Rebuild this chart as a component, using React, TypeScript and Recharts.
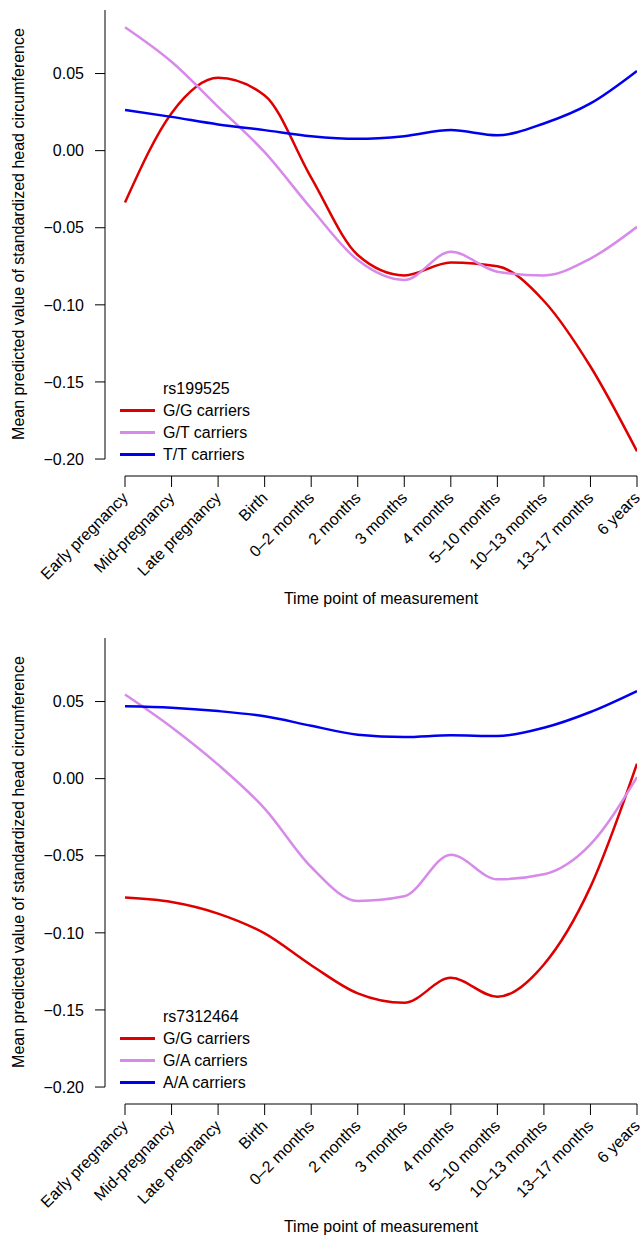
import { LineChart, Line, XAxis, YAxis, ReferenceLine } from 'recharts';

const FONT = "'Liberation Sans', Arial, Helvetica, sans-serif";
const RED = '#DE0000';
const VIOLET = '#D78AE9';
const BLUE = '#0000EE';

const timepoints = [
  'Early pregnancy', 'Mid-pregnancy', 'Late pregnancy', 'Birth', '0–2 months', '2 months',
  '3 months', '4 months', '5–10 months', '10–13 months', '13–17 months', '6 years',
];
const xTicks = timepoints.map((_, i) => i);
const yTicks = [0.05, 0, -0.05, -0.1, -0.15, -0.2];

// rs199525
const rs199525GG = [-0.0336, 0.0243, 0.0472, 0.0358, -0.0175, -0.0677, -0.0809, -0.0725, -0.075, -0.0975, -0.14, -0.195];
const rs199525GT = [0.08, 0.0576, 0.0284, -0.001, -0.0375, -0.071, -0.0839, -0.0656, -0.0785, -0.0809, -0.07, -0.0494];
const rs199525TT = [0.0264, 0.0219, 0.017, 0.0133, 0.0094, 0.0077, 0.0094, 0.0133, 0.01, 0.0176, 0.0306, 0.0517];

// rs7312464
const rs7312464GG = [-0.0771, -0.08, -0.0875, -0.1004, -0.121, -0.1393, -0.1454, -0.1292, -0.1415, -0.1205, -0.0702, 0.0097];
const rs7312464GA = [0.0546, 0.0334, 0.0091, -0.0194, -0.0573, -0.0793, -0.0763, -0.0493, -0.0653, -0.062, -0.0426, 0.001];
const rs7312464AA = [0.0469, 0.046, 0.0438, 0.0404, 0.0343, 0.0285, 0.027, 0.0281, 0.0276, 0.033, 0.0432, 0.0568];

// axis extents (R-style detached axes)
const X_MIN = -0.43;
const X_MAX = 11;
const Y_MAX = 0.0912;
const Y_MIN = -0.211;
const Y_AXIS_END = -0.2;

interface Series { name: string; color: string; values: number[] }

const fmtY = (v: number) => v.toFixed(2).replace('-', '\u2212');

function TimeTick(props: any) {
  const { x, y, payload } = props;
  const ty = y + 6;
  return (
    <text
      x={x} y={ty}
      transform={`rotate(-45, ${x}, ${ty})`}
      textAnchor="end" dominantBaseline="central"
      fontSize={16} fontFamily={FONT} fill="#000"
    >
      {timepoints[payload.value]}
    </text>
  );
}

const YTitle = () => (
  <text x={24} y={234} transform="rotate(-90, 24, 234)" textAnchor="middle" fontSize={16} fontFamily={FONT} fill="#000">
    Mean predicted value of standardized head circumference
  </text>
);

const XTitle = () => (
  <text x={381} y={604} textAnchor="middle" fontSize={16} fontFamily={FONT} fill="#000">
    Time point of measurement
  </text>
);

function GenotypeLegend({ title, series }: { title: string; series: Series[] }) {
  return (
    <div style={{ position: 'absolute', left: 120, top: 377.5, fontFamily: FONT, fontSize: 16, lineHeight: '22px', color: '#000' }}>
      <div style={{ paddingLeft: 43 }}>{title}</div>
      {series.map(s => (
        <div key={s.name} style={{ display: 'flex', alignItems: 'center' }}>
          <span style={{ display: 'inline-block', width: 35, height: 2.5, background: s.color, marginRight: 8 }} />
          <span>{s.name}</span>
        </div>
      ))}
    </div>
  );
}

function TrajectoryChart({ title, series }: { title: string; series: Series[] }) {
  const rows = timepoints.map((_, i) => {
    const row: Record<string, number> = { i };
    series.forEach(s => { row[s.name] = s.values[i]; });
    return row;
  });

  return (
    <div style={{ position: 'relative', width: 641, height: 628 }}>
      <LineChart width={641} height={628} data={rows} margin={{ top: 10, right: 4, bottom: 0, left: 0 }}>
        <XAxis
          dataKey="i" type="number" domain={[X_MIN, X_MAX]} ticks={xTicks} interval={0}
          allowDataOverflow axisLine={false} tickLine={{ stroke: '#000' }} tickSize={11}
          height={152} tick={<TimeTick />} label={<XTitle />}
        />
        <YAxis
          type="number" domain={[Y_MIN, Y_MAX]} ticks={yTicks} interval={0} allowDataOverflow
          width={105} axisLine={false} tickLine={{ stroke: '#000' }} tickSize={10} tickMargin={11}
          tickFormatter={fmtY} tick={{ fontSize: 16, fill: '#000', fontFamily: FONT }}
          label={<YTitle />}
        />
        <ReferenceLine segment={[{ x: X_MIN, y: Y_AXIS_END }, { x: X_MIN, y: Y_MAX }]} stroke="#000" ifOverflow="visible" />
        <ReferenceLine segment={[{ x: 0, y: Y_MIN }, { x: X_MAX, y: Y_MIN }]} stroke="#000" ifOverflow="visible" />
        {series.map(s => (
          <Line
            key={s.name} dataKey={s.name} type="monotone" stroke={s.color}
            strokeWidth={2.5} dot={false} activeDot={false} isAnimationActive={false}
          />
        ))}
      </LineChart>
      <GenotypeLegend title={title} series={series} />
    </div>
  );
}

export default function App() {
  return (
    <div style={{ position: 'absolute', top: 0, left: 0, width: 641, height: 1236, overflow: 'hidden', background: '#fff' }}>
      <TrajectoryChart
        title="rs199525"
        series={[
          { name: 'G/G carriers', color: RED, values: rs199525GG },
          { name: 'G/T carriers', color: VIOLET, values: rs199525GT },
          { name: 'T/T carriers', color: BLUE, values: rs199525TT },
        ]}
      />
      <TrajectoryChart
        title="rs7312464"
        series={[
          { name: 'G/G carriers', color: RED, values: rs7312464GG },
          { name: 'G/A carriers', color: VIOLET, values: rs7312464GA },
          { name: 'A/A carriers', color: BLUE, values: rs7312464AA },
        ]}
      />
    </div>
  );
}
